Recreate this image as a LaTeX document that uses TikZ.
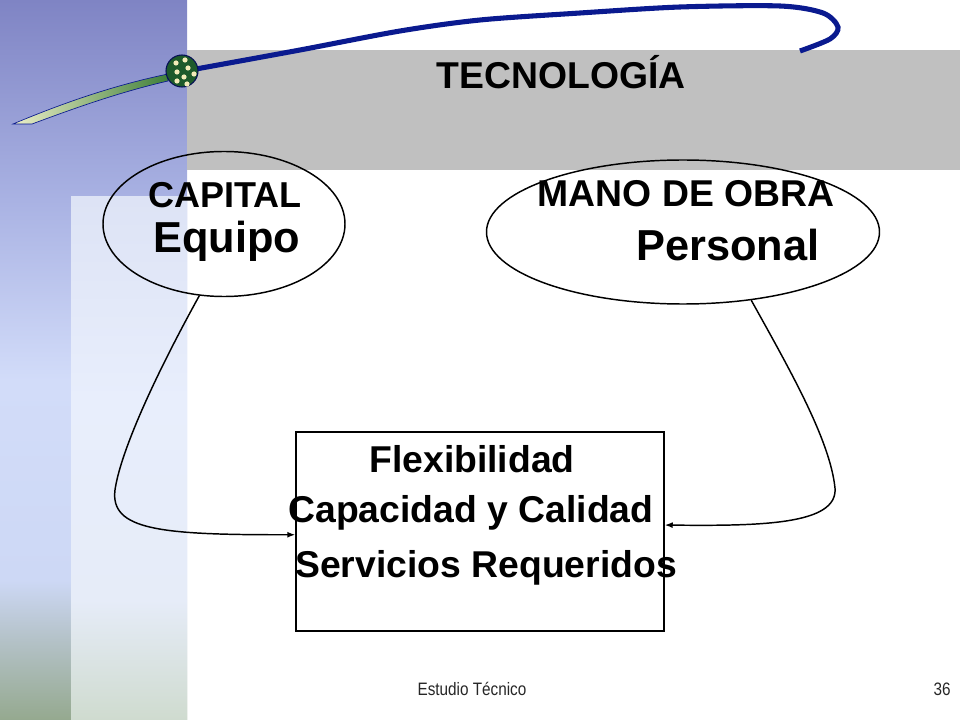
\documentclass[tikz,border=0pt]{standalone}
\usepackage{fontspec}
\setmainfont{Liberation Sans}
\usetikzlibrary{arrows.meta,shapes.geometric}
\definecolor{barTop}{HTML}{7F84C4}
\definecolor{barBlue}{HTML}{A9B2E3}
\definecolor{barPale}{HTML}{D2DCF9}
\definecolor{barLow}{HTML}{CDD8F5}
\definecolor{barMix}{HTML}{B4C2C8}
\definecolor{barGreen}{HTML}{95A98F}
\definecolor{inTop}{HTML}{DDE3F5}
\definecolor{inMid}{HTML}{E8EEFC}
\definecolor{inLow}{HTML}{E6ECF8}
\definecolor{inGreen}{HTML}{CFDBCF}
\definecolor{band}{HTML}{C0C0C0}
\definecolor{navy}{HTML}{0A1A8F}
\definecolor{cream}{HTML}{ECEFC8}
\definecolor{leaf}{HTML}{3F7F3A}
\definecolor{globe}{HTML}{1D5A2B}
\definecolor{dot}{HTML}{F2EBB8}
\pgfdeclareverticalshading{sidebar}{100bp}{color(0bp)=(barGreen); color(25bp)=(barGreen);
  color(30.6bp)=(barMix); color(34.7bp)=(barLow); color(48.6bp)=(barPale);
  color(61.1bp)=(barBlue); color(75bp)=(barTop); color(100bp)=(barTop)}
\pgfdeclareverticalshading{inner}{100bp}{color(0bp)=(inGreen); color(25bp)=(inGreen);
  color(36.5bp)=(inLow); color(55.6bp)=(inMid); color(75bp)=(inTop); color(100bp)=(inTop)}
\tikzset{
  big/.style={font=\bfseries\fontsize{28}{30}\selectfont, anchor=base, inner sep=0pt},
  bigger/.style={font=\bfseries\fontsize{32.5}{34}\selectfont, anchor=base, inner sep=0pt},
  oval/.style={ellipse, draw, line width=1.1pt, inner sep=0pt},
  flow/.style={line width=1.1pt, -{Latex[length=6pt,width=4.5pt]}}
}

\begin{document}
\begin{tikzpicture}[x=0.75pt,y=-0.75pt]
        \useasboundingbox (0,0) rectangle (960,720);
        % side bar and title band
        \shade[shading=sidebar] (0,0) rectangle (187,720);
        \shade[shading=inner] (71,197) rectangle (187,720);
        \fill[band] (187,50) rectangle (960,170);
        % swoosh with globe
        \draw[navy, line width=3.8pt] plot[smooth] coordinates {(196,69) (300,50) (400,31) (480,20) (580,13) (680,7) (780,6) (823,13) (838,27) (830,39) (800,51)};
        \shade[left color=cream, right color=leaf, draw=navy, line width=0.5pt]
            (13,124) .. controls (70,100) and (120,84) .. (168,74) -- (168,81)
            .. controls (120,92) and (75,108) .. (32,124) -- cycle;
        \filldraw[fill=globe, draw=navy!60!black, line width=0.8pt] (182,71) circle (16);
        \foreach \p in {(176,63),(185,60),(188,68),(177,72),(194,74),(184,77),(177,81),(187,84)} {
            \fill[dot] \p circle (2.6);
        }
        % ovals and box
        \node[oval, minimum width=181.5pt, minimum height=108.75pt] (capital) at (224,224) {};
        \node[oval, minimum width=294.75pt, minimum height=108pt] (mano) at (683,232) {};
        \node[draw, line width=1.1pt, minimum width=276pt, minimum height=149.25pt, inner sep=0pt] (caja) at (480,531.5) {};
        % texts
        \node[big] (tec) at (561,89) {TECNOLOGÍA};
        \node[big, font=\bfseries\fontsize{27}{29}\selectfont] (capT) at (225,208) {CAPITAL};
        \node[bigger] (equipo) at (227,253) {Equipo};
        \node[big] (manoT) at (686,207) {MANO DE OBRA};
        \node[bigger] (personal) at (728,261) {Personal};
        \node[big] (flex) at (472,472) {Flexibilidad};
        \node[big] (capac) at (471,522) {Capacidad y Calidad};
        \node[big] (serv) at (486,577) {Servicios Requeridos};
        \node[anchor=base, inner sep=0pt, font=\fontsize{13.5}{15}\selectfont, black!85] (pie) at (472,695) {\scalebox{0.85}[1]{Estudio Técnico}};
        \node[anchor=base, inner sep=0pt, font=\fontsize{13.5}{15}\selectfont, black!85] (num) at (942,695) {\scalebox{0.85}[1]{36}};
        % connectors
        \draw[flow] (capital.-109) .. controls (150,385) and (120,455) .. (115,490)
            .. controls (110,530) and (160,535) .. (caja.181);
        \draw[flow] (mano.-45) .. controls (790,370) and (830,440) .. (835,488)
            .. controls (838,525) and (760,526) .. (caja.2);
    \end{tikzpicture}
\end{document}
